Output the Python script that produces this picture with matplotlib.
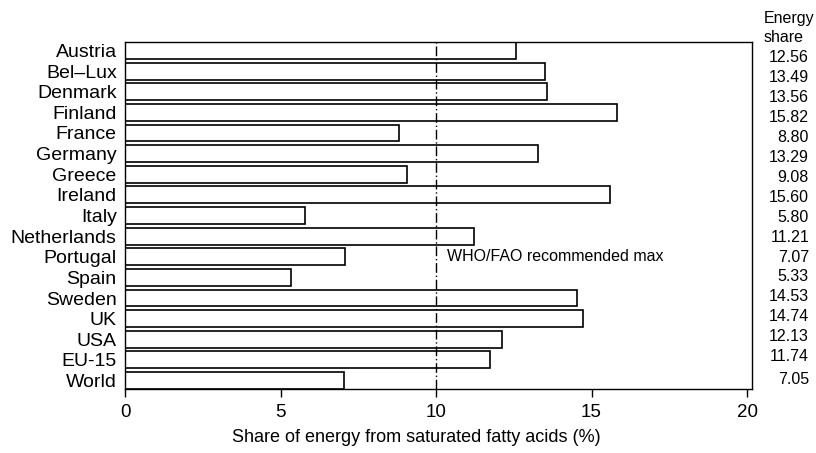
import matplotlib
matplotlib.use("Agg")
import matplotlib.pyplot as plt

plt.rcParams['font.family'] = ['Liberation Sans', 'DejaVu Sans']

countries = ["Austria", "Bel\u2013Lux", "Denmark", "Finland", "France", "Germany",
             "Greece", "Ireland", "Italy", "Netherlands", "Portugal", "Spain",
             "Sweden", "UK", "USA", "EU-15", "World"]
shares = [12.56, 13.49, 13.56, 15.82, 8.80, 13.29, 9.08, 15.60, 5.80, 11.21,
          7.07, 5.33, 14.53, 14.74, 12.13, 11.74, 7.05]
share_labels = ["12.56", "13.49", "13.56", "15.82", "8.80", "13.29", "9.08", "15.60",
                "5.80", "11.21", "7.07", "5.33", "14.53", "14.74", "12.13", "11.74", "7.05"]
xticks = [0, 5, 10, 15, 20]
who_max = 10

W, H = 816, 453
fig = plt.figure(figsize=(W / 100, H / 100), dpi=100)
ax = fig.add_axes([125 / W, 1 - 389 / H, (752 - 125) / W, (389 - 42) / H])

ypos = list(range(len(countries)))
ax.barh(ypos, shares, height=0.82, color="white", edgecolor="black", linewidth=1.2)
ax.set_ylim(len(countries) - 1 + 0.41, -0.41)
ax.set_xlim(0, 20.16)
ax.set_yticks(ypos)
ax.set_yticklabels(countries, fontsize=14)
ax.tick_params(axis="y", length=0, pad=6)
ax.set_xticks(xticks)
ax.set_xticklabels([str(t) for t in xticks], fontsize=13.5)
ax.tick_params(axis="x", length=6, width=1, direction="out", pad=5)
for s in ax.spines.values():
    s.set_linewidth(1)

ax.axvline(who_max, color="black", linestyle=(0, (7, 2, 1, 2)), linewidth=1)
ax.text(who_max + 0.35, 10, "WHO/FAO recommended max", fontsize=11.5, va="center", ha="left")

ax.set_xlabel("Share of energy from saturated fatty acids (%)", fontsize=13)
ax.xaxis.set_label_coords((416 - 125) / (752 - 125), -(438 - 389) / (389 - 42))
ax.xaxis.label.set_va("center")

fig.text(764 / W, 1 - 19 / H, "Energy", fontsize=11.5, ha="left", va="center")
fig.text(764 / W, 1 - 37 / H, "share", fontsize=11.5, ha="left", va="center")
for i, lab in enumerate(share_labels):
    if i < len(share_labels) - 1:
        yp = 58 + 19.9 * i
    else:
        yp = 380
    fig.text(809 / W, 1 - yp / H, lab, fontsize=11.5, ha="right", va="center")

fig.savefig("out.png", dpi=100)
